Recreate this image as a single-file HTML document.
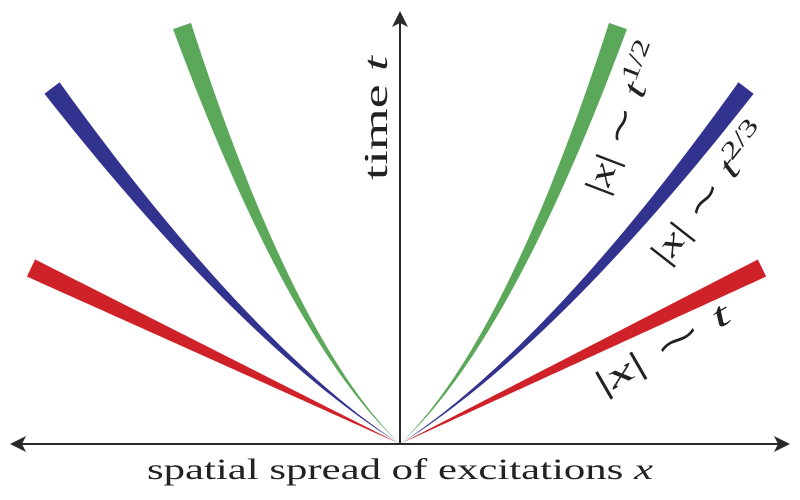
<!DOCTYPE html>
<html><head><meta charset="utf-8"><style>
html,body{margin:0;padding:0;background:#fff;width:800px;height:500px;overflow:hidden}
svg{display:block}
text{font-family:"Liberation Serif","Times New Roman",serif;fill:#222;font-weight:normal}
</style></head><body>
<svg id="chart" width="800" height="500" viewBox="0 0 800 500">
<g id="curves"></g>
<g>
<line x1="18" y1="444" x2="782" y2="444" stroke="#2a2a2a" stroke-width="2"/>
<path d="M10,444 L26,436 L22,444 L26,452 Z" fill="#2a2a2a"/>
<path d="M790,444 L774,436 L778,444 L774,452 Z" fill="#2a2a2a"/>
</g>
<g>
<line x1="400" y1="444" x2="400" y2="20" stroke="#2a2a2a" stroke-width="2"/>
<path d="M400,11 L392,27 L400,23 L408,27 Z" fill="#2a2a2a"/>
</g>
<text x="400" y="479" font-size="30" text-anchor="middle" textLength="506" lengthAdjust="spacingAndGlyphs">spatial spread of excitations <tspan font-style="italic">x</tspan></text>
<text transform="translate(387,118) rotate(-90)" font-size="34" text-anchor="middle" textLength="124" lengthAdjust="spacingAndGlyphs">time <tspan font-style="italic">t</tspan></text>
<text transform="translate(668,358) rotate(-30)" font-size="34" text-anchor="middle" textLength="150" lengthAdjust="spacingAndGlyphs">|<tspan font-style="italic">x</tspan>| ∼ <tspan font-style="italic">t</tspan></text>
<text transform="translate(718,200) rotate(-52)" font-size="34" text-anchor="middle" textLength="168" lengthAdjust="spacingAndGlyphs">|<tspan font-style="italic">x</tspan>| ∼ <tspan font-style="italic">t</tspan><tspan font-size="24" dy="-13">2/3</tspan></text>
<text transform="translate(634,122) rotate(-69)" font-size="34" text-anchor="middle" textLength="160" lengthAdjust="spacingAndGlyphs">|<tspan font-style="italic">x</tspan>| ∼ <tspan font-style="italic">t</tspan><tspan font-size="24" dy="-13">1/2</tspan></text>
</svg>
<script>
const seriesNames = ['linear', 'two-thirds', 'half'];
const exponents = [1, 2/3, 1/2];
const colors = ['#cf2128', '#32338f', '#5ba85a'];
const endDxRight = [362, 346, 218];
const endDxLeft = [369, 348, 218];
const endDy = [176, 356, 418];
const endWidth = [19, 19, 19];

const ox = 400, oy = 444, N = 80, c0 = 0.12;
const g = document.getElementById('curves');
function shape(s, p){ return (Math.pow(s + c0, p) - Math.pow(c0, p)) / (Math.pow(1 + c0, p) - Math.pow(c0, p)); }
function xAt(i, s, dir){ const dx = dir > 0 ? endDxRight[i] : endDxLeft[i]; return ox + dir * dx * shape(s, exponents[i]); }
function yAt(i, s){ return oy - endDy[i] * s; }
function band(i, dir){
  const a = [], b = [];
  for (let k = 0; k <= N; k++){
    const s = k / N;
    const s2 = Math.min(1, s + 0.001), s1 = Math.max(0, s - 0.001);
    const tx = xAt(i, s2, dir) - xAt(i, s1, dir), ty = yAt(i, s2) - yAt(i, s1);
    const L = Math.hypot(tx, ty) || 1;
    const nx = -ty / L, ny = tx / L;
    const w = endWidth[i] * s / 2;
    const x = xAt(i, s, dir), y = yAt(i, s);
    a.push((x + nx * w).toFixed(2) + ',' + (y + ny * w).toFixed(2));
    b.unshift((x - nx * w).toFixed(2) + ',' + (y - ny * w).toFixed(2));
  }
  return 'M' + a.join(' L') + ' L' + b.join(' L') + ' Z';
}
for (let i = 0; i < exponents.length; i++){
  [-1, 1].forEach(dir => {
    const p = document.createElementNS('http://www.w3.org/2000/svg', 'path');
    p.setAttribute('d', band(i, dir));
    p.setAttribute('fill', colors[i]);
    
    
    g.appendChild(p);
  });
}
</script>
</body></html>
